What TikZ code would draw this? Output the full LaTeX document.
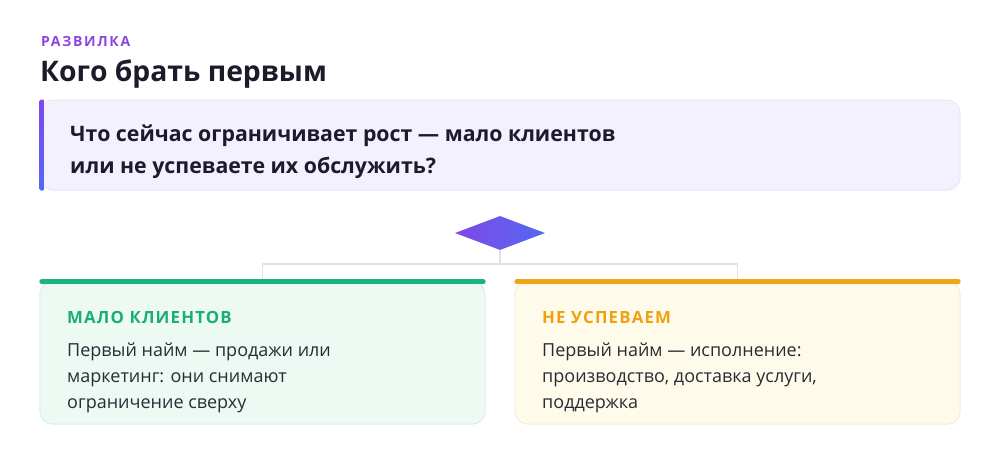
\documentclass[tikz,border=0pt]{standalone}
\usepackage{fontspec}
\setmainfont{Open Sans}
\newfontfamily\spacedfont{Open Sans}[LetterSpace=12]
\newfontfamily\headfont{Open Sans}[LetterSpace=7]
\usetikzlibrary{shapes.geometric,calc}
\definecolor{kicker}{HTML}{8E44E0}
\definecolor{ink}{HTML}{1C1B2B}
\definecolor{body}{HTML}{2B2B36}
\definecolor{qbg}{HTML}{F3F1FD}
\definecolor{qborder}{HTML}{E9E6F6}
\definecolor{barA}{HTML}{8048EA}
\definecolor{barB}{HTML}{5468F0}
\definecolor{conn}{HTML}{E1DFEA}
\definecolor{greenbar}{HTML}{1DB37E}
\definecolor{greenbg}{HTML}{ECFAF3}
\definecolor{greenborder}{HTML}{DCEFE5}
\definecolor{greentxt}{HTML}{1AAE75}
\definecolor{orangebar}{HTML}{F2A516}
\definecolor{orangebg}{HTML}{FEFBEA}
\definecolor{orangeborder}{HTML}{F2EED8}
\definecolor{orangetxt}{HTML}{F0A010}
\tikzset{
  cardbox/.style={rectangle, minimum width=445pt, minimum height=142pt, inner sep=0pt},
  connector/.style={draw=conn, line width=1.5pt},
  cardhead/.style={anchor=base west, inner sep=0pt, font=\headfont\fontsize{16.8}{19}\selectfont\bfseries},
  cardtext/.style={anchor=base west, inner sep=0pt, align=left, text=body, font=\fontsize{18}{26}\selectfont},
}
\begin{document}
\begin{tikzpicture}[x=1pt,y=-1pt]
\useasboundingbox (0,0) rectangle (1000,458);
\fill[white] (0,0) rectangle (1000,458);

\node[anchor=base west, inner sep=0pt, text=kicker, font=\spacedfont\fontsize{14}{16}\selectfont\bfseries] (kick) at (41,46) {РАЗВИЛКА};
\node[anchor=base west, inner sep=0pt, text=ink, font=\fontsize{28.3}{34}\selectfont\bfseries] (title) at (40,81) {Кого брать первым};

% question box
\node[rectangle, minimum width=920pt, minimum height=90pt, inner sep=0pt, fill=qbg, draw=qborder, line width=1pt, rounded corners=13pt] (q) at (500,145) {};
\shade[top color=barA, bottom color=barB, rounded corners=2pt] (q.north west) rectangle ([xshift=5pt]q.south west);
\node[anchor=base west, inner sep=0pt, text=ink, align=left, font=\fontsize{21.3}{32}\selectfont\bfseries] (qt) at (70,173) {Что сейчас ограничивает рост — мало клиентов\\или не успеваете их обслужить?};

% diamond
\node[diamond, minimum width=90pt, minimum height=34pt, inner sep=0pt, left color=barA, right color=barB, draw=none] (d) at (500,233) {};

% cards
\node[cardbox] (L) at (262.5,353) {};
\node[cardbox] (R) at (737.5,353) {};

\coordinate (hub) at (500,264);
\draw[connector] (d.south) -- (hub);
\draw[connector] (hub) -| (L.north);
\draw[connector] (hub) -| (R.north);

\draw[fill=greenbg, draw=greenborder, line width=1pt, rounded corners=13pt] (L.north west) rectangle (L.south east);
\draw[fill=orangebg, draw=orangeborder, line width=1pt, rounded corners=13pt] (R.north west) rectangle (R.south east);
\draw[greenbar, line width=5pt, line cap=round] ([xshift=2pt]L.north west) -- ([xshift=-2pt]L.north east);
\draw[orangebar, line width=5pt, line cap=round] ([xshift=2pt]R.north west) -- ([xshift=-2pt]R.north east);

\node[cardhead, text=greentxt] (Lh) at (67,323.5) {МАЛО КЛИЕНТОВ};
\node[cardtext] (Lt) at (67,408) {Первый найм — продажи или\\маркетинг: они снимают\\ограничение сверху};
\node[cardhead, text=orangetxt] (Rh) at (542,323.5) {НЕ УСПЕВАЕМ};
\node[cardtext] (Rt) at (542,408) {Первый найм — исполнение:\\производство, доставка услуги,\\поддержка};
\end{tikzpicture}
\end{document}
